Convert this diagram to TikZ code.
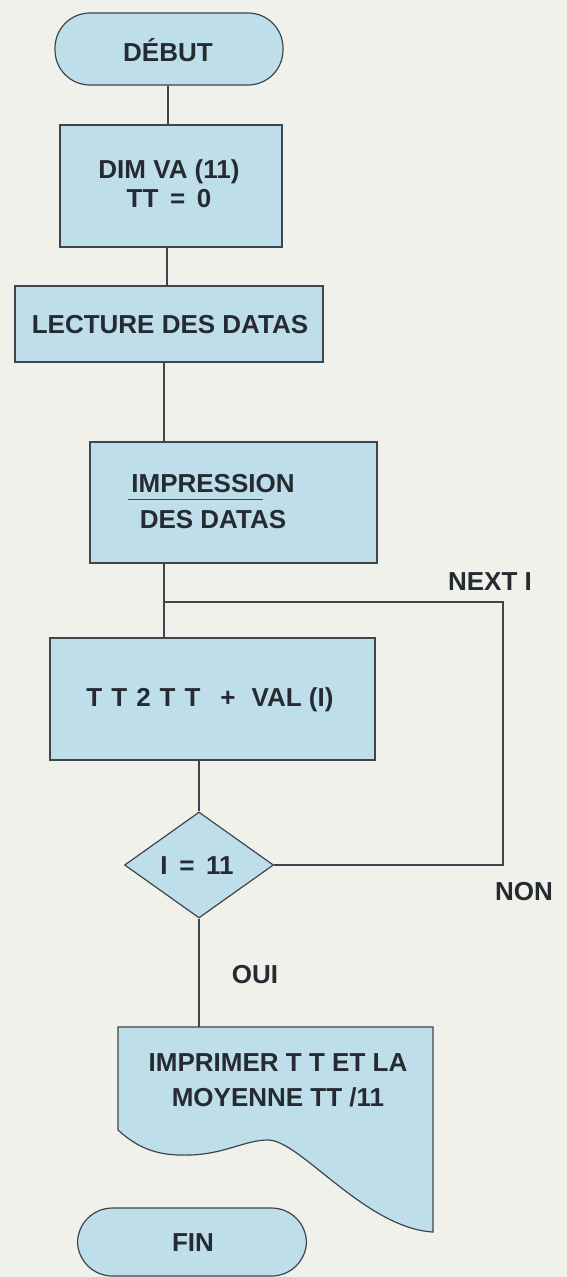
\documentclass[tikz,border=0pt]{standalone}
\usepackage{fontspec}
\setmainfont{Liberation Sans}
\usetikzlibrary{shapes.geometric}
\definecolor{bg}{HTML}{F1F1EB}
\definecolor{boxfill}{HTML}{BEDFEA}
\definecolor{ink}{HTML}{262B33}
\definecolor{edge}{HTML}{40444C}
\tikzset{
  base/.style={draw=edge, line width=1.2pt, fill=boxfill, text=ink, inner sep=0pt,
    font=\bfseries\fontsize{26}{29}\selectfont, align=center},
  procbox/.style={base, rectangle},
  termbox/.style={base, rectangle, rounded corners=35pt},
  decbox/.style={base, diamond},
  lbl/.style={text=ink, inner sep=0pt, font=\bfseries\fontsize{26}{29}\selectfont, align=center},
  conn/.style={draw=edge, line width=1.2pt}
}
\begin{document}
\begin{tikzpicture}[x=1pt,y=-1pt]
\fill[bg] (0,0) rectangle (567,1277);
\useasboundingbox (0,0) rectangle (567,1277);

% nodes
\node[termbox, minimum width=228pt, minimum height=72pt] (debut) at (169,49) {};
\node[lbl] (debutT) at (168,50) {DÉBUT};

\node[procbox, minimum width=222pt, minimum height=122pt] (dim) at (171,186) {};
\node[lbl] (dimT) at (169,184) {DIM VA (11)\\TT\, = \,0};

\node[procbox, minimum width=308pt, minimum height=76pt] (lecture) at (169,324) {};
\node[lbl] (lectureT) at (170,325) {LECTURE DES DATAS};

\node[procbox, minimum width=287pt, minimum height=121pt] (impression) at (233.5,502.5) {};
\node[lbl, font=\bfseries\fontsize{26}{36}\selectfont] (impT) at (213,502) {IMPRESSION\\DES DATAS};

\node[procbox, minimum width=325pt, minimum height=122pt] (tt) at (212.5,699) {};
\node[lbl] (ttT) at (210,700) {T\hspace{9pt}T\hspace{9pt}2\hspace{9pt}T\hspace{9pt}T\hspace{20pt}+\hspace{16pt}VAL (I)};

\node[decbox, minimum width=149pt, minimum height=106pt] (dia) at (199,865) {};
\node[lbl] (diaT) at (197,866) {I \,=\, 11};

% document shape
\coordinate (doctop) at (199,1027);
\filldraw[draw=edge, line width=1.2pt, fill=boxfill]
  (118,1027) -- (433,1027) -- (433,1232)
  .. controls (365,1228) and (300,1140) .. (268,1140)
  .. controls (245,1140) and (225,1154) .. (190,1155)
  .. controls (160,1156) and (140,1150) .. (118,1130) -- cycle;
\node[lbl, font=\bfseries\fontsize{26}{35}\selectfont] (docT) at (278,1080) {IMPRIMER T T ET LA\\MOYENNE TT /11};

\node[termbox, minimum width=229pt, minimum height=68pt] (fin) at (192,1242) {};
\node[lbl] (finT) at (193,1243) {FIN};

% labels
\node[lbl] (nextI) at (490,582) {NEXT I};
\node[lbl] (non) at (524,892) {NON};
\node[lbl] (oui) at (255,975) {OUI};

% connectors
\coordinate (j) at (164,602);
\coordinate (r) at (503,602);
\coordinate (c2) at (167,0);
\draw[conn] (debutT |- debut.south) -- (debutT |- dim.north);
\draw[conn] (dim.south -| c2) -- (lecture.north -| c2);
\draw[conn] (lecture.south -| j) -- (impression.north -| j);
\draw[conn] (impression.south -| j) -- (tt.north -| j);
\draw[conn] (dia.east) -| (r) -- (j);
\draw[conn] (tt.south -| dia.north) -- (dia.north);
\draw[conn] (dia.south) -- (doctop);

% underline mark under IMPRESSION
\draw[draw=edge, line width=1pt] (128,499) -- (263,499);
\end{tikzpicture}
\end{document}
